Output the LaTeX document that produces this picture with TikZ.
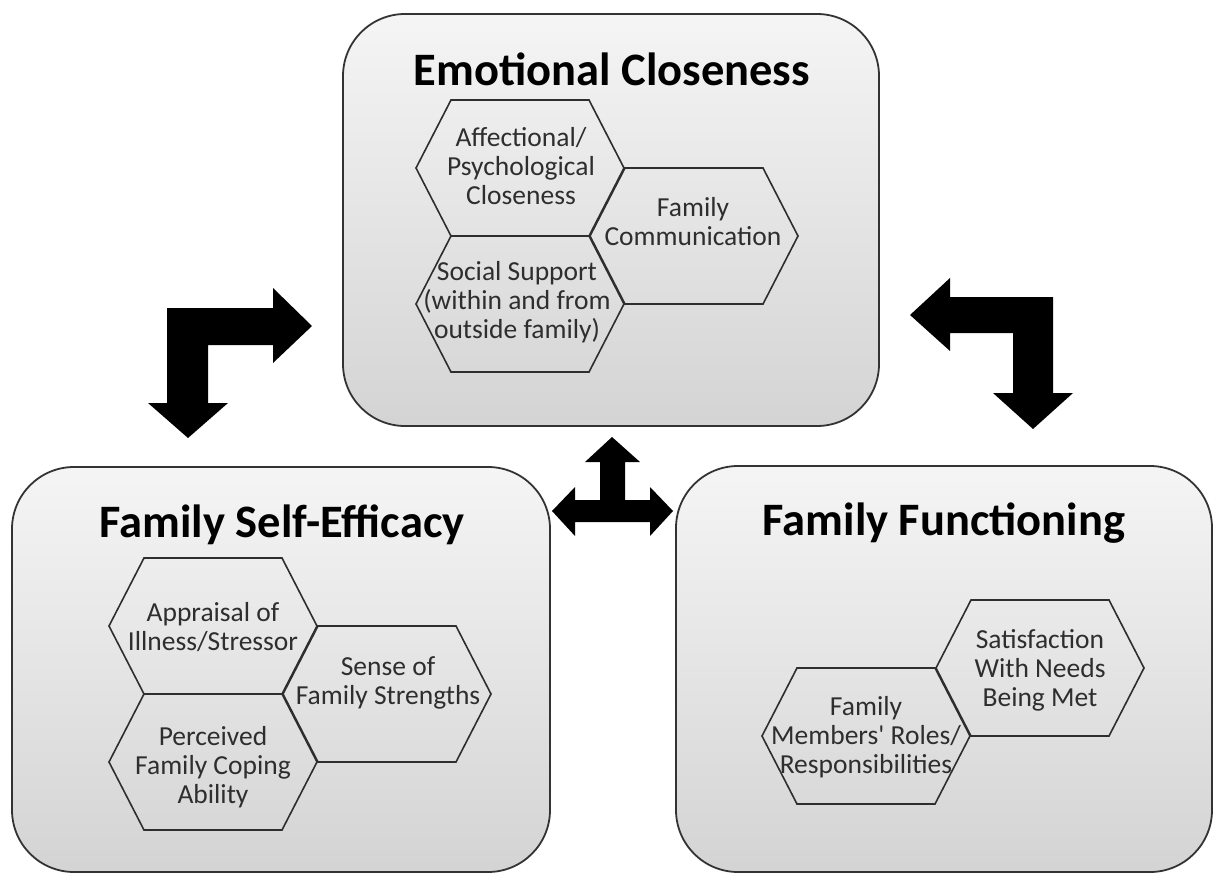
\documentclass[tikz,border=0pt]{standalone}
\usepackage{fontspec}
\setmainfont{Carlito}
\tikzset{
  bigbox/.style={draw=black!80, line width=1.8pt, rounded corners=62pt,
    top color=black!4, bottom color=black!17, inner sep=0pt},
  title/.style={font=\fontsize{46.5}{52}\selectfont\bfseries, text=black, anchor=base},
  hexline/.style={draw=black!82, line width=1.6pt},
  hextext/.style={font=\fontsize{27.5}{29}\selectfont, text=black!82, align=center, inner sep=0pt},
  blockarrow/.style={fill=black, draw=none}
}
\newcommand\hexat[2]{\draw[hexline] (#1-104,#2) -- (#1-69,#2-68) -- (#1+69,#2-68) -- (#1+104,#2) -- (#1+69,#2+68) -- (#1-69,#2+68) -- cycle;}
\begin{document}
\begin{tikzpicture}[x=1pt,y=-1pt]
\useasboundingbox[fill=white] (0,0) rectangle (1215,877);

% boxes
\node[bigbox, minimum width=536pt, minimum height=412pt] (ec) at (611,220) {};
\node[bigbox, minimum width=538pt, minimum height=405pt] (fse) at (281,669.5) {};
\node[bigbox, minimum width=536pt, minimum height=406pt] (ff) at (944,669) {};

% titles
\node[title] (ect) at (612,86) {Emotional Closeness};
\node[title] (fset) at (282,537) {Family Self-Efficacy};
\node[title] (fft) at (944,535) {Family Functioning};

% hexagons: Emotional Closeness
\hexat{520}{168}
\hexat{694}{236}
\hexat{520}{304}
\node[hextext] (h1) at (521,166) {Affectional/\\Psychological\\Closeness};
\node[hextext] (h2) at (693,222) {Family\\Communication};
\node[hextext] (h3) at (517,302) {Social Support\\(within and from\\outside family)};

% hexagons: Family Self-Efficacy
\hexat{213}{626}
\hexat{387}{694}
\hexat{213}{762}
\node[hextext] (h4) at (213,627) {Appraisal of\\Illness/Stressor};
\node[hextext] (h5) at (388,683) {Sense of\\Family Strengths};
\node[hextext] (h6) at (213,767) {Perceived\\Family Coping\\Ability};

% hexagons: Family Functioning
\hexat{1040}{668}
\hexat{866}{736}
\node[hextext] (h7) at (1040,670) {Satisfaction\\With Needs\\Being Met};
\node[hextext] (h8) at (866,737) {Family\\Members\textquotesingle{} Roles/\\Responsibilities};

% block arrows
\fill[blockarrow] (167,308) -- (273,308) -- (273,288) -- (312,326) -- (273,363) -- (273,345)
  -- (208,345) -- (208,403) -- (228,403) -- (188,438) -- (148,403) -- (167,403) -- cycle;
\fill[blockarrow] (1053,297) -- (950,297) -- (950,278) -- (910,315) -- (950,351) -- (950,333)
  -- (1013,333) -- (1013,393) -- (993,393) -- (1033,429) -- (1073,393) -- (1053,393) -- cycle;
\fill[blockarrow] (612,437) -- (640,462) -- (625,462) -- (625,500) -- (650,500) -- (650,487)
  -- (673,511) -- (650,536) -- (650,522) -- (575,522) -- (575,536) -- (552,511) -- (575,487)
  -- (575,500) -- (600,500) -- (600,462) -- (585,462) -- cycle;
\end{tikzpicture}
\end{document}
